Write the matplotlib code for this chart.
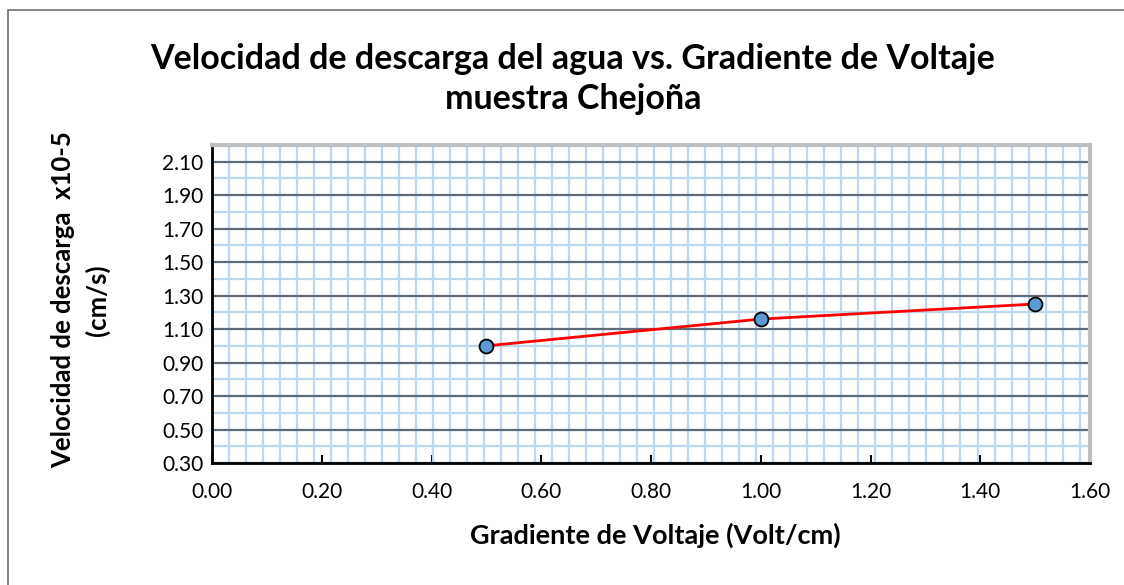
import matplotlib.pyplot as plt
from matplotlib.ticker import MultipleLocator, FormatStrFormatter
from matplotlib.patches import Rectangle

plt.rcParams['font.family'] = ['Lato', 'DejaVu Sans']

# datos
gradiente = [0.5, 1.0, 1.5]
velocidad = [1.00, 1.16, 1.25]
xticks = [0.0, 0.2, 0.4, 0.6, 0.8, 1.0, 1.2, 1.4, 1.6]
yticks = [0.3, 0.5, 0.7, 0.9, 1.1, 1.3, 1.5, 1.7, 1.9, 2.1]

fig = plt.figure(figsize=(11.24, 5.85), dpi=100)
# marco del gráfico
fig.patches.append(Rectangle((8 / 1124, -0.1), 1.2, 1 - 10 / 585 + 0.1,
                             transform=fig.transFigure, fill=False,
                             edgecolor='#707070', lw=1.2))

ax = fig.add_axes([212 / 1124, 1 - 463 / 585, (1090 - 212) / 1124, (463 - 145) / 585])

# papel cuadriculado
ax.xaxis.set_minor_locator(MultipleLocator(0.031))
ax.yaxis.set_minor_locator(MultipleLocator(0.1))
ax.grid(which='minor', color='#bdd7ee', lw=1.6, zorder=0)
ax.grid(which='major', axis='y', color='#5f6b78', lw=1.6, zorder=1)

ax.plot(gradiente, velocidad, color='red', lw=2, zorder=3)
ax.plot(gradiente, velocidad, 'o', ms=10, mfc='#5b9bd5', mec='black', mew=1.3, zorder=4)

ax.set_xlim(0, 1.6)
ax.set_ylim(0.3, 2.2)
ax.set_xticks(xticks)
ax.set_yticks(yticks)
ax.xaxis.set_major_formatter(FormatStrFormatter('%.2f'))
ax.yaxis.set_major_formatter(FormatStrFormatter('%.2f'))
ax.tick_params(axis='x', which='major', direction='in', length=6, width=1.5, labelsize=15, pad=14)
ax.tick_params(axis='y', which='major', length=0, labelsize=15, pad=6)
ax.tick_params(which='minor', length=0)

ax.spines['left'].set_linewidth(2)
ax.spines['bottom'].set_linewidth(2)
ax.spines['top'].set_color('#bfbfbf')
ax.spines['top'].set_linewidth(3)
ax.spines['right'].set_color('#bfbfbf')
ax.spines['right'].set_linewidth(3)

fig.text(573 / 1124, 1 - 79 / 585, 'Velocidad de descarga del agua vs. Gradiente de Voltaje\nmuestra Chejoña',
         ha='center', va='center', fontsize=24.5, fontweight='bold', linespacing=1.3)
fig.text(655 / 1124, 1 - 535 / 585, 'Gradiente de Voltaje (Volt/cm)',
         ha='center', va='center', fontsize=19.5, fontweight='bold')
fig.text(81 / 1124, 1 - 300 / 585, 'Velocidad de descarga  x10-5\n(cm/s)', rotation=90,
         ha='center', va='center', fontsize=18.5, fontweight='bold', linespacing=1.45)

fig.savefig('out.png', dpi=100)
